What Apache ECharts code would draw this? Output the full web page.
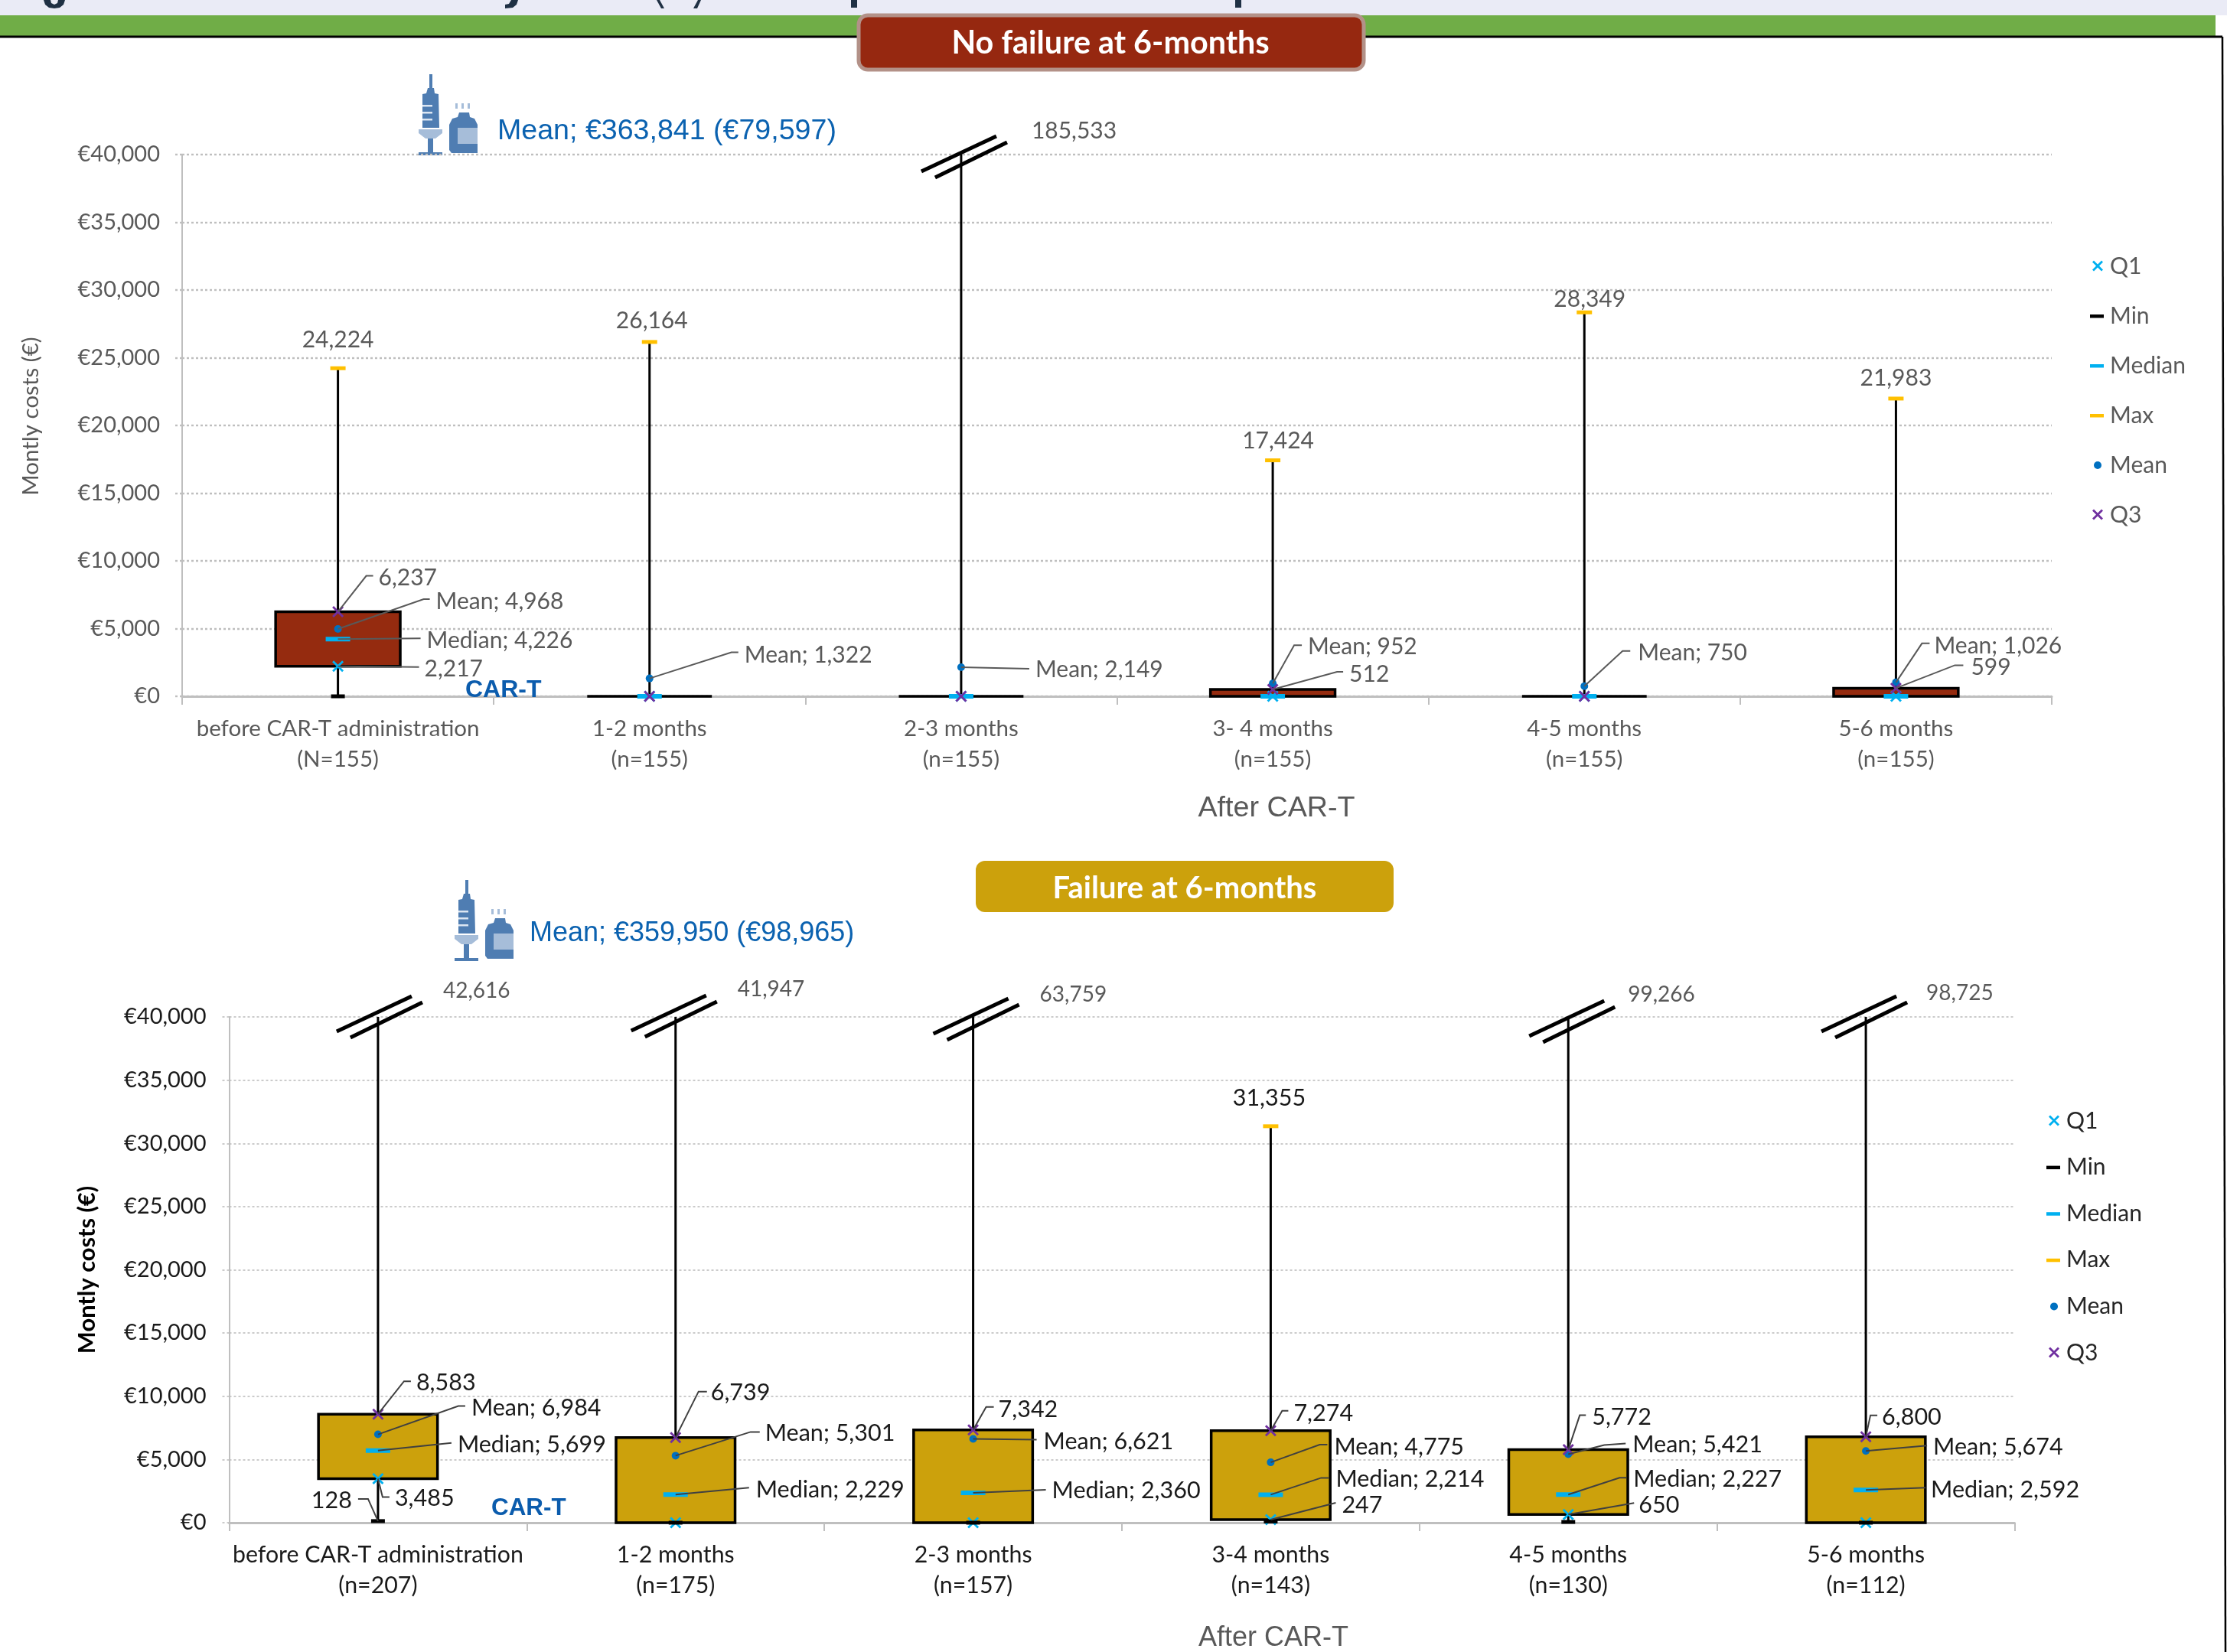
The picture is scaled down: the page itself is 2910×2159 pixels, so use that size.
<!DOCTYPE html>
<html>
<head>
<meta charset="utf-8">
<title>Monthly costs around CAR-T administration</title>
<script src="https://cdn.jsdelivr.net/npm/echarts@6/dist/echarts.min.js"></script>
<style>
  html, body { margin: 0; padding: 0; background: #fff; }
  #chart { width: 2910px; height: 2159px; }
</style>
</head>
<body>
<div id="chart"></div>
<script>
// Monthly cost distributions, patients without failure at 6 months
const noFailureCategories = ['before CAR-T administration\n(N=155)', '1-2 months\n(n=155)', '2-3 months\n(n=155)', '3- 4 months\n(n=155)', '4-5 months\n(n=155)', '5-6 months\n(n=155)'];
const noFailureMin = [0, 0, 0, 0, 0, 0];
const noFailureQ1 = [2217, 0, 0, 0, 0, 0];
const noFailureMedian = [4226, 0, 0, 0, 0, 0];
const noFailureMean = [4968, 1322, 2149, 952, 750, 1026];
const noFailureQ3 = [6237, 0, 0, 512, 0, 599];
const noFailureMax = [24224, 26164, 185533, 17424, 28349, 21983];

// Monthly cost distributions, patients with failure at 6 months
const failureCategories = ['before CAR-T administration\n(n=207)', '1-2 months\n(n=175)', '2-3 months\n(n=157)', '3-4 months\n(n=143)', '4-5 months\n(n=130)', '5-6 months\n(n=112)'];
const failureMin = [128, 0, 0, 100, 60, 0];
const failureQ1 = [3485, 0, 0, 247, 650, 0];
const failureMedian = [5699, 2229, 2360, 2214, 2227, 2592];
const failureMean = [6984, 5301, 6621, 4775, 5421, 5674];
const failureQ3 = [8583, 6739, 7342, 7274, 5772, 6800];
const failureMax = [42616, 41947, 63759, 31355, 99266, 98725];

const axisMax = 40000;
const axisStep = 5000;
const seriesNames = ['Q1', 'Min', 'Median', 'Max', 'Mean', 'Q3'];

// Callout layout: pixel offsets from the mark to the leader line points and the text
const call = (tx, ty, points, align) => ({ tx, ty, points: points || [], align: align || 'left' });

const noFailureCallouts = [
  { values: noFailureQ3, prefix: '', at: { 0: call(53, -44, [[37, -47], [46, -47]]), 3: call(100, -20, [[84, -23], [92, -23]]), 5: call(98, -27, [[77, -30], [88, -30]]) } },
  { values: noFailureMean, prefix: 'Mean; ', at: { 0: call(128, -36, [[112, -39], [120, -39]]), 1: call(124, -30, [[107, -34], [116, -34]]), 2: call(97, 3, [[89, 2]]), 3: call(46, -48, [[28, -50], [38, -50]]), 4: call(70, -43, [[50, -46], [60, -46]]), 5: call(50, -48, [[34, -51], [44, -51]]) } },
  { values: noFailureMedian, prefix: 'Median; ', at: { 0: call(116, 2, [[108, -1]]) } },
  { values: noFailureQ1, prefix: '', at: { 0: call(113, 4, [[106, 1]]) } },
  { values: noFailureMax, prefix: '', at: { 0: call(0, -37, null, 'center'), 1: call(3, -28, null, 'center'), 2: call(92, -31), 3: call(7, -25, null, 'center'), 4: call(7, -17, null, 'center'), 5: call(0, -27, null, 'center') } }
];

const failureCallouts = [
  { values: failureQ3, prefix: '', at: { 0: call(50, -41, [[34, -43], [43, -43]]), 1: call(46, -58, [[30, -60], [41, -60]]), 2: call(33, -27, [[17, -30], [27, -30]]), 3: call(30, -23, [[15, -26], [23, -26]]), 4: call(31, -42, [[15, -45], [23, -45]]), 5: call(21, -25, [[6, -28], [15, -28]]) } },
  { values: failureMean, prefix: 'Mean; ', at: { 0: call(122, -34, [[105, -37], [114, -37]]), 1: call(117, -29, [[98, -31], [110, -31]]), 2: call(92, 4, [[83, 1]]), 3: call(83, -20, [[64, -23], [74, -23]]), 4: call(84, -12, [[47, -12], [75, -14]]), 5: call(88, -5, [[80, -7]]) } },
  { values: failureMedian, prefix: 'Median; ', at: { 0: call(104, -8, [[96, -10]]), 1: call(105, -6, [[96, -9]]), 2: call(103, -3, [[95, -4]]), 3: call(85, -20, [[66, -22], [76, -22]]), 4: call(85, -20, [[67, -22], [76, -22]]), 5: call(85, 0, [[78, -3]]) } },
  { values: failureQ1, prefix: '', at: { 0: call(22, 26, [[6, 24], [15, 24]]), 3: call(93, -19, [[85, -22]]), 4: call(92, -12, [[86, -15]]) } },
  { values: failureMin, prefix: '', at: { 0: call(-34, -27, [[-13, -29], [-26, -29]], 'right') } },
  { values: failureMax, prefix: '', at: { 0: call(85, -34), 1: call(81, -36), 2: call(87, -29), 3: call(-2, -37, null, 'center'), 4: call(78, -29), 5: call(79, -31) } }
];

// Broken-whisker strokes: small shift per category
const noFailureBreakShift = { 2: [0, 0] };
const failureBreakShift = { 0: [-2, -3], 1: [-6, -4], 2: [0, 0], 4: [1, 3], 5: [-6, -3] };

const fmt = v => v.toLocaleString('en-US');
const capped = arr => arr.map((v, i) => [i, v > axisMax ? '-' : v]);
const pointsOf = arr => arr.map((v, i) => [i, v]);

const ICON_X = 'path://M0 0M20 20M3 4.5L5 2.5L10 7.5L15 2.5L17 4.5L12 9.5L17 14.5L15 16.5L10 11.5L5 16.5L3 14.5L8 9.5Z';
const ICON_DASH = 'path://M0 0M20 20M0 8H18V12.5H0Z';
const ICON_DOT = 'path://M0 0M20 20M5 10A5 5 0 1 1 15 10A5 5 0 1 1 5 10Z';
const MARK_X = 'path://M0.5 2.5L2.5 0.5L8 6L13.5 0.5L15.5 2.5L10 8L15.5 13.5L13.5 15.5L8 10L2.5 15.5L0.5 13.5L6 8Z';

function panelSeries(idx, cfg) {
  const common = { xAxisIndex: idx, yAxisIndex: idx, silent: true, animation: false };
  const boxes = {
    ...common, type: 'custom', name: 'box-' + idx, z: 2, clip: false,
    data: cfg.min.map((v, i) => [i, v, cfg.q1[i], cfg.q3[i], cfg.max[i]]),
    renderItem(params, api) {
      const i = api.value(0);
      const band = api.size([1, 0])[0];
      const w = band * 0.4;
      const x = api.coord([i, 0])[0];
      const yMin = api.coord([i, api.value(1)])[1];
      const yQ1 = api.coord([i, api.value(2)])[1];
      const yQ3 = api.coord([i, api.value(3)])[1];
      const maxValue = api.value(4);
      const yMax = api.coord([i, Math.min(maxValue, axisMax)])[1];
      const children = [
        { type: 'line', shape: { x1: x, y1: yMin, x2: x, y2: yMax }, style: { stroke: '#000', lineWidth: 3 } },
        { type: 'rect', shape: { x: x - w / 2, y: yQ3, width: w, height: yQ1 - yQ3 }, style: { fill: cfg.fill, stroke: '#000', lineWidth: 3.5 } }
      ];
      if (maxValue > axisMax) {
        const s = cfg.breakShift[i] || [0, 0];
        children.push(
          { type: 'line', shape: { x1: x - 52 + s[0], y1: yMax + 22 + s[1], x2: x + 46 + s[0], y2: yMax - 24 + s[1] }, style: { stroke: '#000', lineWidth: 5 } },
          { type: 'line', shape: { x1: x - 34 + s[0], y1: yMax + 30 + s[1], x2: x + 60 + s[0], y2: yMax - 16 + s[1] }, style: { stroke: '#000', lineWidth: 5 } }
        );
      }
      return { type: 'group', children };
    }
  };

  const scatter = (name, data, symbol, symbolSize, color) => ({
    ...common, type: 'scatter', name, data, symbol, symbolSize, clip: false, z: 3,
    symbolKeepAspect: false, itemStyle: { color, opacity: 1 }
  });
  const marks = [
    scatter('Q1', pointsOf(cfg.q1), MARK_X, 15, '#00B0F0'),
    scatter('Min', pointsOf(cfg.min), 'rect', [18, 5], '#000'),
    scatter('Median', pointsOf(cfg.median), 'rect', [32, 6], '#00B0F0'),
    scatter('Max', capped(cfg.max), 'rect', [20, 5], '#FFC000'),
    scatter('Mean', pointsOf(cfg.mean), 'circle', 10, '#0070C0'),
    scatter('Q3', pointsOf(cfg.q3), MARK_X, 15, '#7030A0')
  ];

  // Flatten the callout tables into one row per drawn label
  const rows = [];
  cfg.callouts.forEach(group => {
    group.values.forEach((v, i) => {
      if (group.at[i]) rows.push({ cat: i, value: v, text: group.prefix + fmt(v), layout: group.at[i] });
    });
  });
  const callouts = {
    ...common, type: 'custom', name: 'callouts-' + idx, z: 4, clip: false,
    data: rows.map(r => [r.cat, r.value]),
    renderItem(params, api) {
      const row = rows[params.dataIndex];
      const pt = api.coord([row.cat, Math.min(row.value, axisMax)]);
      const layout = row.layout;
      const children = [];
      if (layout.points.length) {
        const line = [pt].concat(layout.points.map(p => [pt[0] + p[0], pt[1] + p[1]]));
        children.push({ type: 'polyline', shape: { points: line }, style: { stroke: cfg.leader, lineWidth: 2, fill: 'none' } });
      }
      const overBreak = row.value > axisMax;
      children.push({
        type: 'text',
        style: {
          text: row.text, x: pt[0] + layout.tx, y: pt[1] + layout.ty,
          align: layout.align, verticalAlign: 'middle',
          font: (overBreak ? cfg.breakFont : cfg.font) + 'px Lato',
          fill: overBreak ? '#595959' : cfg.textColor
        }
      });
      return { type: 'group', children };
    }
  };
  return [boxes].concat(marks, [callouts]);
}

function gridAxes(idx, opt) {
  const xAxis = {
    type: 'category', gridIndex: idx, data: opt.categories,
    axisLine: { lineStyle: { color: '#BFBFBF', width: 3 } },
    axisTick: { show: true, length: 11, alignWithLabel: false, lineStyle: { color: '#BFBFBF', width: 2 } },
    axisLabel: { color: opt.color, fontFamily: 'Lato', fontSize: opt.xFont, lineHeight: 40, margin: 22, interval: 0 },
    splitLine: { show: false }
  };
  const yAxis = {
    type: 'value', gridIndex: idx, min: 0, max: axisMax, interval: axisStep,
    name: 'Montly costs (€)', nameLocation: 'middle', nameGap: opt.nameGap, nameRotate: 90,
    nameTextStyle: { color: opt.nameColor, fontFamily: 'Lato', fontSize: opt.nameFont, fontWeight: opt.nameWeight, padding: opt.namePad },
    axisLine: { show: true, lineStyle: { color: '#BFBFBF', width: 2 } },
    axisTick: { show: true, length: 11, lineStyle: { color: '#BFBFBF', width: opt.gridWidth, type: [3, 3] } },
    axisLabel: { color: opt.color, fontFamily: 'Lato', fontSize: 29, margin: opt.labelMargin, formatter: v => '€' + fmt(v) },
    splitLine: { show: true, lineStyle: { color: '#BFBFBF', width: opt.gridWidth, type: [3, 3] } }
  };
  return { xAxis, yAxis };
}

const upperAxes = gridAxes(0, { categories: noFailureCategories, color: '#595959', nameColor: '#595959', nameWeight: 'normal', nameFont: 29.5, nameGap: 183, namePad: [0, 0, 0, 24], gridWidth: 2.4, xFont: 29.5, labelMargin: 29 });
const lowerAxes = gridAxes(1, { categories: failureCategories, color: '#1a1a1a', nameColor: '#000', nameWeight: 'bold', nameFont: 30.8, nameGap: 170, namePad: [0, 0, 0, 0], gridWidth: 1.6, xFont: 30.3, labelMargin: 30 });

function legendAt(left, topY, gap, color) {
  const icons = [ICON_X, ICON_DASH, ICON_DASH, ICON_DASH, ICON_DOT, ICON_X];
  return {
    show: true, orient: 'vertical', left, top: topY, selectedMode: false,
    itemWidth: 20, itemHeight: 20, itemGap: gap,
    textStyle: { color, fontFamily: 'Lato', fontSize: 30, lineHeight: 20, padding: [0, 0, 0, 1] },
    data: seriesNames.map((name, i) => ({ name, icon: icons[i] }))
  };
}

// Syringe-and-vial pictogram, drawn from plain shapes
function vaccineIcon(x, y) {
  const dark = '#4F7DB2', pale = '#A6BDD9';
  const r = (a, b, w, h, fill) => ({ type: 'rect', shape: { x: a, y: b, width: w, height: h }, style: { fill: fill || dark } });
  const p = (pts, fill) => ({ type: 'polygon', shape: { points: pts }, style: { fill: fill || dark } });
  return {
    type: 'group', x, y, children: [
      r(31, 7, 4, 18),
      p([[29, 25], [37, 25], [38, 32], [43, 33], [44, 77], [22, 77], [22, 33], [27, 32]]),
      r(22, 47, 13, 2.5, '#DCE6F2'), r(22, 56, 13, 2.5, '#DCE6F2'), r(22, 65, 13, 2.5, '#DCE6F2'),
      p([[17, 79], [48, 79], [48, 84], [39, 91], [26, 91], [17, 84]], pale),
      r(29, 91, 7, 20),
      r(17, 109, 31, 4),
      r(65, 45, 3, 7, pale), r(73, 45, 3, 7, pale), r(81, 45, 3, 7, pale),
      p([[70, 57], [83, 57], [84, 63], [90, 65], [94, 73], [94, 110], [60, 110], [57, 106], [57, 73], [61, 65], [68, 63]]),
      r(68, 77, 26, 21, pale)
    ]
  };
}

const darkNavy = '#1F3044';
const graphicElements = [
  // Header strip with the cropped title's descenders along its top edge
  { type: 'rect', z: -2, shape: { x: 0, y: 0, width: 2910, height: 20 }, style: { fill: '#EAEBF6' } },
  { type: 'rect', z: -1, shape: { x: 0, y: 20, width: 2895, height: 27 }, style: { fill: '#70AD47' } },
  { type: 'polygon', z: -1, shape: { points: [[57, 0], [59, 6], [64, 10], [71, 11], [78, 10], [83, 6], [85, 0], [76, 0], [75, 4], [71, 6], [67, 4], [66, 0]] }, style: { fill: darkNavy } },
  { type: 'polygon', z: -1, shape: { points: [[668, 0], [677, 0], [675, 6], [670, 10], [660, 11], [660, 6], [665, 5]] }, style: { fill: darkNavy } },
  { type: 'polygon', z: -1, shape: { points: [[858, 0], [862, 0], [868, 11], [864, 11]] }, style: { fill: darkNavy } },
  { type: 'polygon', z: -1, shape: { points: [[912, 0], [916, 0], [911, 11], [906, 11]] }, style: { fill: darkNavy } },
  { type: 'rect', z: -1, shape: { x: 1112, y: 0, width: 8, height: 10 }, style: { fill: darkNavy } },
  { type: 'rect', z: -1, shape: { x: 1614, y: 0, width: 8, height: 10 }, style: { fill: darkNavy } },
  // Frame around the two panels
  { type: 'line', z: -1, shape: { x1: 0, y1: 48, x2: 2904, y2: 48 }, style: { stroke: '#000', lineWidth: 3 } },
  { type: 'line', z: -1, shape: { x1: 2904, y1: 48, x2: 2908, y2: 2159 }, style: { stroke: '#000', lineWidth: 2.5 } },
  // Panel banners
  { type: 'rect', z: 5, shape: { x: 1122, y: 20, width: 660, height: 71, r: 12 }, style: { fill: '#962810', stroke: '#B39188', lineWidth: 5 } },
  { type: 'text', z: 6, style: { text: 'No failure at 6-months', x: 1451, y: 57, align: 'center', verticalAlign: 'middle', font: 'bold 41.3px Lato', fill: '#fff' } },
  { type: 'rect', z: 5, shape: { x: 1275, y: 1125, width: 546, height: 67, r: 12 }, style: { fill: '#CCA10C' } },
  { type: 'text', z: 6, style: { text: 'Failure at 6-months', x: 1548, y: 1161, align: 'center', verticalAlign: 'middle', font: 'bold 40px Lato', fill: '#fff' } },
  // Acquisition cost notes and pictograms
  vaccineIcon(530, 90),
  vaccineIcon(577, 1143),
  { type: 'text', style: { text: 'Mean; €363,841 (€79,597)', x: 650, y: 172, verticalAlign: 'middle', font: '37.6px "Liberation Sans"', fill: '#0B62B0' } },
  { type: 'text', style: { text: 'Mean; €359,950 (€98,965)', x: 692, y: 1220, verticalAlign: 'middle', font: '36px "Liberation Sans"', fill: '#0B62B0' } },
  // CAR-T infusion tags
  { type: 'text', z: 6, style: { text: 'CAR-T', x: 608, y: 902, verticalAlign: 'middle', font: 'bold 32px "Liberation Sans"', fill: '#0B5CAD' } },
  { type: 'text', z: 6, style: { text: 'CAR-T', x: 642, y: 1971, verticalAlign: 'middle', font: 'bold 31.4px "Liberation Sans"', fill: '#0B5CAD' } },
  // Horizontal axis captions
  { type: 'text', style: { text: 'After CAR-T', x: 1668, y: 1057, align: 'center', verticalAlign: 'middle', font: '37.7px "Liberation Sans"', fill: '#595959' } },
  { type: 'text', style: { text: 'After CAR-T', x: 1664, y: 2141, align: 'center', verticalAlign: 'middle', font: '36px "Liberation Sans"', fill: '#595959' } }
];

const chart = echarts.init(document.getElementById('chart'), null, { renderer: 'canvas', width: 2910, height: 2159 });
chart.setOption({
  animation: false,
  backgroundColor: '#fff',
  grid: [
    { left: 238, top: 202, width: 2443, height: 708, containLabel: false, outerBoundsMode: 'none' },
    { left: 299.5, top: 1329, width: 2333, height: 661, containLabel: false, outerBoundsMode: 'none' }
  ],
  xAxis: [upperAxes.xAxis, lowerAxes.xAxis],
  yAxis: [upperAxes.yAxis, lowerAxes.yAxis],
  legend: [legendAt(2726, 328, 35, '#595959'), legendAt(2669, 1445, 30.6, '#262626')],
  series: panelSeries(0, {
    min: noFailureMin, q1: noFailureQ1, median: noFailureMedian, mean: noFailureMean, q3: noFailureQ3, max: noFailureMax,
    callouts: noFailureCallouts, breakShift: noFailureBreakShift,
    fill: '#952B0F', textColor: '#595959', leader: '#595959', font: 30, breakFont: 30
  }).concat(panelSeries(1, {
    min: failureMin, q1: failureQ1, median: failureMedian, mean: failureMean, q3: failureQ3, max: failureMax,
    callouts: failureCallouts, breakShift: failureBreakShift,
    fill: '#CCA10C', textColor: '#1a1a1a', leader: '#404040', font: 30.5, breakFont: 28
  })),
  graphic: { elements: graphicElements }
});
</script>
</body>
</html>
